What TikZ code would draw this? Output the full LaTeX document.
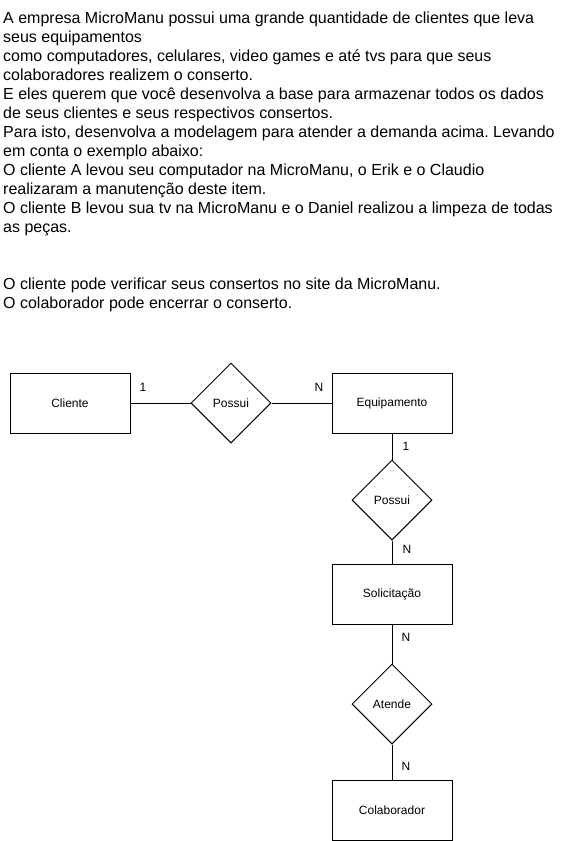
\documentclass[tikz,border=0pt]{standalone}
\usepackage{fontspec}
\setmainfont{Liberation Sans}
\usetikzlibrary{shapes.geometric}
\frenchspacing
\tikzset{
  txtline/.style={anchor=base west, inner sep=0pt, font=\fontsize{16}{19}\selectfont},
  entity/.style={draw, line width=1pt, rectangle, minimum width=120pt, minimum height=60pt, inner sep=0pt, font=\fontsize{12}{14}\selectfont},
  relation/.style={draw, line width=1pt, diamond, aspect=1, minimum width=80pt, minimum height=80pt, inner sep=0pt, font=\fontsize{12}{14}\selectfont},
  card/.style={inner sep=0pt, font=\fontsize{12}{14}\selectfont},
  link/.style={line width=1pt}
}
\begin{document}
\begin{tikzpicture}[x=1pt,y=-1pt]
\useasboundingbox (0,0) rectangle (560,841);
\fill[white] (0,0) rectangle (560,841);
\node[txtline] (t1) at (3,23.5) {A empresa MicroManu possui uma grande quantidade de clientes que leva};
\node[txtline] (t2) at (3,42.5) {seus equipamentos};
\node[txtline] (t3) at (3,61.5) {como computadores, celulares, video games e até tvs para que seus};
\node[txtline] (t4) at (3,80.5) {colaboradores realizem o conserto.};
\node[txtline] (t5) at (3,99.5) {E eles querem que você desenvolva a base para armazenar todos os dados};
\node[txtline] (t6) at (3,118.5) {de seus clientes e seus respectivos consertos.};
\node[txtline] (t7) at (3,137.5) {Para isto, desenvolva a modelagem para atender a demanda acima. Levando};
\node[txtline] (t8) at (3,156.5) {em conta o exemplo abaixo:};
\node[txtline] (t9) at (3,175.5) {O cliente A levou seu computador na MicroManu, o Erik e o Claudio};
\node[txtline] (t10) at (3,194.5) {realizaram a manutenção deste item.};
\node[txtline] (t11) at (3,213.5) {O cliente B levou sua tv na MicroManu e o Daniel realizou a limpeza de todas};
\node[txtline] (t12) at (3,232.5) {as peças.};
\node[txtline] (t13) at (3,289.5) {O cliente pode verificar seus consertos no site da MicroManu.};
\node[txtline] (t14) at (3,308.5) {O colaborador pode encerrar o conserto.};

\node[entity] (cliente) at (70,403) {Cliente};
\node[relation] (possui1) at (231,403) {Possui};
\node[entity] (equip) at (392,403) {Equipamento};
\node[relation] (possui2) at (392,500) {Possui};
\node[entity] (solic) at (392,594) {Solicitação};
\node[relation] (atende) at (392,704) {Atende};
\node[entity] (colab) at (392,810) {Colaborador};

\draw[link] (cliente.east) -- (possui1.west);
\draw[link] (possui1.east) -- (equip.west);
\draw[link] (equip.south) -- (possui2.north);
\draw[link] (possui2.south) -- (solic.north);
\draw[link] (solic.south) -- (atende.north);
\draw[link] (atende.south) -- (colab.north);

\node[card] (c1) at (143,387) {1};
\node[card] (c2) at (319,387) {N};
\node[card] (c3) at (406,446) {1};
\node[card] (c4) at (407,549) {N};
\node[card] (c5) at (406,637) {N};
\node[card] (c6) at (406,766) {N};
\end{tikzpicture}
\end{document}
